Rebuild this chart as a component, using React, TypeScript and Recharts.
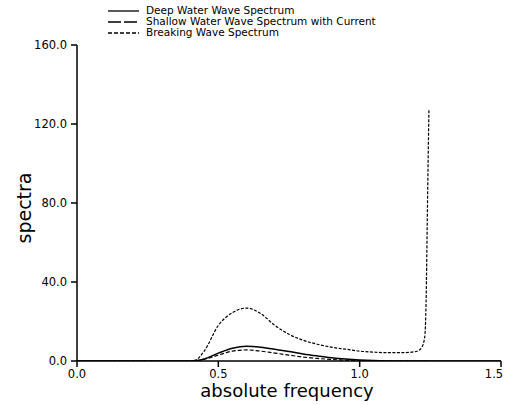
import { LineChart, Line, XAxis, YAxis, Legend, Label } from 'recharts'

// sample frequencies (absolute frequency)
const freqs = [
  0.0, 0.1, 0.2, 0.3, 0.4, 0.42, 0.45, 0.5, 0.55, 0.6, 0.65, 0.7, 0.75, 0.8,
  0.85, 0.9, 0.95, 1.0, 1.05, 1.1, 1.15, 1.2, 1.22, 1.23, 1.235, 1.24, 1.245,
  1.3, 1.4, 1.5,
]

const deepWater = [
  0, 0, 0, 0, 0, 0.1, 1, 4, 6.5, 7.5, 7, 6, 4.8, 3.6, 2.6, 1.7, 1, 0.5, 0.2,
  0.05, 0, 0, 0, 0, 0, 0, 0, 0, 0, 0,
]

const shallowCurrent = [
  0, 0, 0, 0, 0, 0.5, 5, 18, 24.5, 26.8, 24, 18, 13.5, 10.5, 8.5, 7, 6, 5,
  4.5, 4.2, 4.2, 4.8, 7, 12, 30, 80, 127.5, null, null, null,
]

const breaking = [
  0, 0, 0, 0, 0, 0.1, 0.8, 3, 5, 5.6, 5, 4, 3, 2, 1.3, 0.8, 0.4, 0.2, 0.05,
  0, 0, 0, 0, 0, 0, 0, null, null, null, null,
]

const xTicks = [0, 0.5, 1.0, 1.5]
const yTicks = [0, 40, 80, 120, 160]

const data = freqs.map((f, i) => ({
  f,
  deep: deepWater[i],
  shallow: shallowCurrent[i],
  breaking: breaking[i],
}))

const legendItems = [
  { label: 'Deep Water Wave Spectrum', dash: undefined },
  { label: 'Shallow Water Wave Spectrum with Current', dash: '13 3' },
  { label: 'Breaking Wave Spectrum', dash: '4 2' },
]

const FONT = 'DejaVu Sans, sans-serif'

const renderLegend = () => (
  <div style={{ fontFamily: FONT, fontSize: 10.5, lineHeight: '11px' }}>
    {legendItems.map((it) => (
      <div
        key={it.label}
        style={{ display: 'flex', alignItems: 'center', height: 11 }}
      >
        <svg width={40} height={10}>
          <line
            x1={2}
            y1={5}
            x2={33}
            y2={5}
            stroke="#000"
            strokeWidth={1.3}
            strokeDasharray={it.dash}
          />
        </svg>
        <span>{it.label}</span>
      </div>
    ))}
  </div>
)

// x tick: last label nudged left so it stays inside the picture
const renderXTick = (props: any) => {
  const { x, y, payload } = props
  const last = payload.value === xTicks[xTicks.length - 1]
  return (
    <text
      x={last ? x - 4 : x}
      y={y}
      dy="0.85em"
      textAnchor="middle"
      fontSize={11.5}
      fontFamily={FONT}
      fill="#000"
    >
      {Number(payload.value).toFixed(1)}
    </text>
  )
}

const renderYLabel = () => (
  <text
    x={24}
    y={208}
    transform="rotate(-90 24 208)"
    textAnchor="middle"
    dominantBaseline="central"
    fontSize={19}
    fontFamily={FONT}
    fill="#000"
  >
    spectra
  </text>
)

const renderXLabel = () => (
  <text
    x={287}
    y={390}
    textAnchor="middle"
    dominantBaseline="central"
    fontSize={18}
    fontFamily={FONT}
    fill="#000"
  >
    absolute frequency
  </text>
)

export default function App() {
  return (
    <div
      style={{
        position: 'absolute',
        left: 0,
        top: 0,
        width: 508,
        height: 405,
        background: '#fff',
      }}
    >
      <LineChart
        width={508}
        height={405}
        data={data}
        margin={{ top: 45, right: 7, left: 0, bottom: 0 }}
      >
        <XAxis
          dataKey="f"
          type="number"
          domain={[0, 1.5]}
          ticks={xTicks}
          height={44}
          tickSize={6}
          tickMargin={1}
          stroke="#000"
          strokeWidth={1.5}
          tick={renderXTick}
        >
          <Label content={renderXLabel} />
        </XAxis>
        <YAxis
          type="number"
          domain={[0, 160]}
          ticks={yTicks}
          tickFormatter={(v: number) => v.toFixed(1)}
          width={77}
          tickSize={6}
          tickMargin={4}
          stroke="#000"
          strokeWidth={1.5}
          allowDataOverflow
          tick={{ fill: '#000', fontSize: 11.5, fontFamily: FONT }}
        >
          <Label content={renderYLabel} />
        </YAxis>
        <Legend
          layout="vertical"
          align="center"
          verticalAlign="middle"
          content={renderLegend}
          wrapperStyle={{ top: 5, left: 106, width: 320 }}
        />
        <Line
          type="monotone"
          dataKey="deep"
          name="Deep Water Wave Spectrum"
          stroke="#000"
          strokeWidth={1.5}
          dot={false}
          isAnimationActive={false}
        />
        <Line
          type="monotone"
          dataKey="shallow"
          name="Shallow Water Wave Spectrum with Current"
          stroke="#000"
          strokeWidth={1.2}
          strokeDasharray="3 1.5"
          dot={false}
          isAnimationActive={false}
        />
        <Line
          type="monotone"
          dataKey="breaking"
          name="Breaking Wave Spectrum"
          stroke="#000"
          strokeWidth={1.2}
          strokeDasharray="4 2"
          dot={false}
          isAnimationActive={false}
        />
      </LineChart>
    </div>
  )
}
